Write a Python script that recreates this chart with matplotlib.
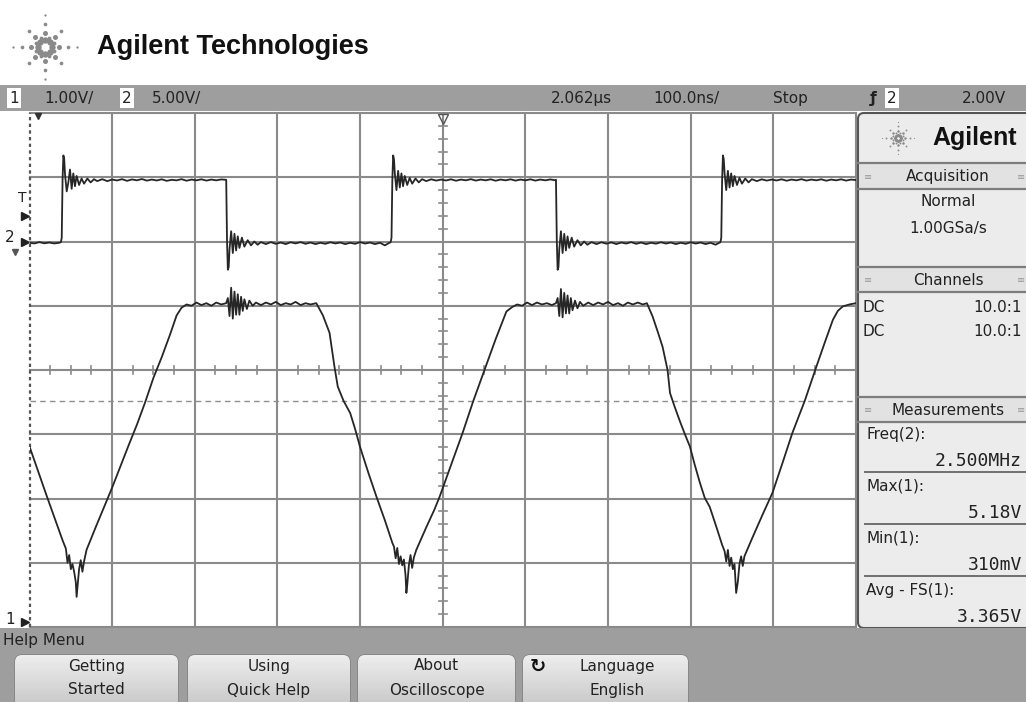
import numpy as np
import matplotlib
matplotlib.use('Agg')
from matplotlib import pyplot as plt
from matplotlib import font_manager
from matplotlib.patches import Rectangle, FancyBboxPatch

# Scope settings as shown on the screen
t_per_div = 100.0      # ns/div
ch1_v_per_div = 1.0
ch2_v_per_div = 5.0
ch1_ground_div = -4.0
ch2_ground_div = 2.0
trig_level_v = 2.0     # on channel 2
cursor_level_v = 3.52  # dashed line, channel 1

# Channel 1 (triangle-ish), time in ns from screen centre, volts
ch1_points = [
    (-500, 2.81), (-490, 2.44), (-480, 2.07), (-470, 1.71), (-460, 1.35), (-456, 1.22),
    (-454, 1.00), (-452, 1.12), (-450, 0.90), (-448, 0.98), (-446, 0.86), (-444, 0.70),
    (-443, 0.47), (-442, 0.62), (-440, 0.90), (-438, 1.04), (-436, 0.86), (-434, 1.02),
    (-431, 1.20), (-420, 1.55), (-410, 1.86), (-400, 2.17), (-390, 2.50), (-380, 2.83),
    (-370, 3.15), (-360, 3.50), (-350, 3.88), (-340, 4.20), (-330, 4.55), (-322, 4.85),
    (-316, 4.97), (-310, 5.02), (-304, 5.00), (-298, 5.05), (-292, 5.01), (-286, 5.04),
    (-280, 5.00), (-274, 5.05), (-268, 5.02), (-262, 5.04), (-260, 5.12), (-258, 4.84),
    (-256, 5.28), (-254, 4.80), (-252, 5.22), (-250, 4.86), (-248, 5.18), (-246, 4.86),
    (-244, 5.14), (-242, 4.92), (-240, 5.10), (-237, 4.95), (-234, 5.08), (-230, 5.00),
    (-226, 5.05), (-220, 5.01), (-214, 5.05), (-208, 5.02), (-202, 5.06), (-196, 5.01),
    (-190, 5.04), (-184, 5.02), (-178, 5.06), (-172, 5.01), (-166, 5.04), (-160, 5.02),
    (-153, 5.04), (-145, 4.85), (-137, 4.58), (-131, 4.05), (-127, 3.74), (-120, 3.52),
    (-112, 3.33), (-106, 3.08), (-100, 2.80), (-90, 2.40), (-80, 2.02), (-70, 1.66),
    (-61, 1.31), (-59, 1.25), (-57, 1.07), (-55, 1.23), (-53, 0.98), (-51, 1.10),
    (-49, 0.96), (-47, 1.05), (-45, 0.80), (-44, 0.53), (-43, 0.65), (-41, 0.96),
    (-39, 1.12), (-37, 0.92), (-35, 1.08), (-32, 1.20), (-20, 1.55), (-10, 1.83),
    (-4, 2.02), (10, 2.52), (24, 3.02), (37, 3.52), (51, 4.02), (64, 4.48), (77, 4.91),
    (84, 4.98), (90, 5.02), (96, 5.00), (102, 5.05), (108, 5.01), (114, 5.05), (120, 5.02),
    (126, 5.04), (132, 5.01), (137, 5.04), (139, 5.12), (141, 4.84), (143, 5.26),
    (145, 4.82), (147, 5.20), (149, 4.88), (151, 5.16), (153, 4.88), (155, 5.12),
    (157, 4.93), (160, 5.08), (163, 4.96), (166, 5.06), (170, 5.00), (176, 5.05),
    (182, 5.01), (188, 5.05), (194, 5.02), (200, 5.06), (206, 5.01), (212, 5.04),
    (218, 5.00), (224, 5.05), (230, 5.02), (236, 5.05), (242, 5.02), (247, 5.04),
    (254, 4.83), (260, 4.60), (266, 4.36), (272, 4.00), (275, 3.64), (280, 3.45),
    (287, 3.20), (293, 3.00), (299, 2.81), (305, 2.52), (311, 2.25), (317, 2.01),
    (323, 1.87), (331, 1.56), (338, 1.28), (341, 1.18), (343, 1.02), (345, 1.20),
    (347, 0.95), (349, 1.08), (351, 0.90), (353, 0.98), (354, 0.75), (355, 0.53),
    (357, 0.70), (359, 0.98), (361, 1.10), (363, 0.95), (365, 1.10), (375, 1.40),
    (387, 1.75), (399, 2.09), (411, 2.55), (423, 3.02), (438, 3.52), (452, 4.05),
    (462, 4.42), (472, 4.78), (478, 4.92), (484, 4.99), (492, 5.02), (500, 5.04),
]

# Channel 2 (square wave with ringing), ns, volts
ch2_points = [
    (-500, -0.10), (-494, -0.15), (-488, -0.05), (-482, -0.14), (-476, -0.08), (-470, -0.15),
    (-464, -0.10), (-462, -0.05), (-461, 0.30), (-460, 4.80), (-459, 6.70), (-458, 6.40),
    (-457, 5.20), (-455, 3.90), (-453, 4.60), (-451, 5.60), (-449, 4.10), (-447, 5.30),
    (-445, 4.30), (-443, 5.10), (-440, 4.40), (-437, 4.90), (-434, 4.50), (-430, 4.90),
    (-426, 4.60), (-422, 4.85), (-418, 4.70), (-412, 4.85), (-406, 4.70), (-400, 4.82),
    (-394, 4.75), (-388, 4.85), (-382, 4.72), (-376, 4.83), (-370, 4.76), (-364, 4.86),
    (-358, 4.74), (-352, 4.82), (-346, 4.75), (-340, 4.84), (-334, 4.72), (-328, 4.80),
    (-322, 4.76), (-316, 4.85), (-310, 4.73), (-304, 4.82), (-298, 4.76), (-292, 4.84),
    (-286, 4.74), (-280, 4.82), (-274, 4.76), (-268, 4.83), (-262, 4.80), (-261, 0.00),
    (-260, -2.20), (-259, -2.00), (-258, -0.60), (-256, 0.80), (-254, -0.90), (-252, 0.60),
    (-250, -0.70), (-248, 0.40), (-246, -0.50), (-243, 0.30), (-240, -0.40), (-236, 0.10),
    (-232, -0.30), (-228, 0.00), (-224, -0.25), (-220, -0.05), (-214, -0.20), (-208, -0.05),
    (-202, -0.18), (-196, -0.08), (-190, -0.20), (-184, -0.06), (-178, -0.15), (-172, -0.05),
    (-166, -0.18), (-160, -0.08), (-154, -0.20), (-148, -0.10), (-142, -0.18), (-136, -0.06),
    (-130, -0.15), (-124, -0.08), (-118, -0.20), (-112, -0.10), (-106, -0.18), (-100, -0.05),
    (-94, -0.16), (-88, -0.08), (-82, -0.20), (-76, -0.10), (-70, -0.30), (-66, -0.15),
    (-63, -0.05), (-62, 0.30), (-61, 4.80), (-60, 6.70), (-59, 6.40), (-58, 5.30),
    (-56, 4.00), (-54, 5.50), (-52, 4.20), (-50, 5.30), (-48, 4.30), (-46, 5.10),
    (-43, 4.40), (-40, 4.95), (-37, 4.50), (-33, 4.90), (-29, 4.60), (-25, 4.85),
    (-20, 4.70), (-14, 4.84), (-8, 4.74), (-2, 4.82), (4, 4.75), (10, 4.84), (16, 4.73),
    (22, 4.82), (28, 4.76), (34, 4.85), (40, 4.74), (46, 4.82), (52, 4.76), (58, 4.84),
    (64, 4.73), (70, 4.82), (76, 4.76), (82, 4.84), (88, 4.74), (94, 4.82), (100, 4.76),
    (106, 4.84), (112, 4.74), (118, 4.82), (124, 4.76), (130, 4.83), (136, 4.77),
    (137, 4.80), (138, 0.00), (139, -2.20), (140, -2.00), (141, -0.60), (143, 0.80),
    (145, -0.90), (147, 0.60), (149, -0.70), (151, 0.40), (153, -0.50), (156, 0.30),
    (159, -0.40), (163, 0.10), (167, -0.30), (171, 0.00), (175, -0.25), (180, -0.05),
    (186, -0.20), (192, -0.06), (198, -0.17), (204, -0.07), (210, -0.20), (216, -0.08),
    (222, -0.16), (228, -0.05), (234, -0.18), (240, -0.08), (246, -0.20), (252, -0.10),
    (258, -0.17), (264, -0.06), (270, -0.16), (276, -0.08), (282, -0.20), (288, -0.10),
    (294, -0.18), (300, -0.06), (306, -0.16), (312, -0.08), (318, -0.20), (324, -0.10),
    (330, -0.25), (334, -0.12), (336, -0.05), (337, 0.30), (338, 4.80), (339, 6.70),
    (340, 6.40), (341, 5.30), (343, 4.00), (345, 5.50), (347, 4.20), (349, 5.30),
    (351, 4.30), (353, 5.10), (356, 4.40), (359, 4.95), (362, 4.50), (366, 4.90),
    (370, 4.60), (374, 4.85), (380, 4.70), (386, 4.84), (392, 4.74), (398, 4.82),
    (404, 4.75), (410, 4.84), (416, 4.73), (422, 4.82), (428, 4.76), (434, 4.85),
    (440, 4.74), (446, 4.82), (452, 4.76), (458, 4.84), (464, 4.73), (470, 4.82),
    (476, 4.76), (482, 4.84), (488, 4.74), (494, 4.82), (500, 4.78),
]

# Screen texts
brand = 'Agilent Technologies'
ch1_scale_txt = '1.00V/'
ch2_scale_txt = '5.00V/'
delay_txt = '2.062µs'
timebase_txt = '100.0ns/'
run_state = 'Stop'
trig_txt = '2.00V'
acq_mode = 'Normal'
sample_rate = '1.00GSa/s'
coupling = ['DC', 'DC']
probe = ['10.0:1', '10.0:1']
meas_names = ['Freq(2):', 'Max(1):', 'Min(1):', 'Avg - FS(1):']
meas_values = ['2.500MHz', '5.18V', '310mV', '3.365V']
softkeys = [('Getting', 'Started'), ('Using', 'Quick Help'),
            ('About', 'Oscilloscope'), ('Language', 'English')]

installed = {f.name for f in font_manager.fontManager.ttflist}
if 'Liberation Sans Narrow' in installed:
    brand_font, brand_size = 'Liberation Sans Narrow', 24
else:
    brand_font, brand_size = 'Liberation Sans', 19.5

W, H = 1026, 702
X0, X1, Y0, Y1 = 29.5, 856.0, 113.0, 627.0   # graticule in pixels

def px_y(div):
    return Y0 + (4 - div) / 8 * (Y1 - Y0)

fig = plt.figure(figsize=(W / 100, H / 100), dpi=100)
bg = fig.add_axes([0, 0, 1, 1])
bg.set_xlim(0, W)
bg.set_ylim(H, 0)
bg.axis('off')

UI = '#222222'
bar_grey = '#9e9e9e'

# top header bar
bg.add_patch(Rectangle((0, 85), W, 26, color=bar_grey, lw=0))
for x0, lab in [(7, '1'), (120, '2'), (885, '2')]:
    bg.add_patch(Rectangle((x0, 88), 14, 20, color='white', lw=0))
    bg.text(x0 + 7, 98.5, lab, ha='center', va='center', fontsize=11, color=UI)
for x, s in [(44, ch1_scale_txt), (152, ch2_scale_txt), (551, delay_txt),
             (653, timebase_txt), (773, run_state), (962, trig_txt)]:
    bg.text(x, 98.5, s, ha='left', va='center', fontsize=11, color=UI)
bg.text(873, 99, 'ƒ', ha='center', va='center', fontsize=11, color=UI, fontweight='bold')

# logo + brand
def starburst(cx, cy, scale, color):
    for a in range(0, 360, 45):
        rays = [6, 13, 21, 29] if a % 90 == 0 else [6, 13, 20]
        for i, r in enumerate(rays):
            bg.plot(cx + scale * r * np.cos(np.radians(a)), cy + scale * r * np.sin(np.radians(a)),
                    'o', ms=(4.2 - i * 0.9) * scale, color=color, mec='none')
    for a in range(22, 360, 45):
        bg.plot(cx + scale * 9 * np.cos(np.radians(a)), cy + scale * 9 * np.sin(np.radians(a)),
                'o', ms=2.5 * scale, color=color, mec='none')

starburst(45, 47, 1.1, '#8a8a8a')
bg.text(97, 47, brand, ha='left', va='center', fontsize=brand_size, fontweight='bold',
        family=brand_font, color='#111111')

# left strip markers
bg.text(22, 198, 'T', ha='center', va='center', fontsize=10, color=UI)
bg.plot(25, px_y(trig_level_v / ch2_v_per_div + ch2_ground_div), '>', ms=6, color=UI)
bg.text(10, 238, '2', ha='center', va='center', fontsize=11, color=UI)
bg.plot(25, px_y(ch2_ground_div), '>', ms=6, color=UI)
bg.plot(15, 252, 'v', ms=5, color='#555555')
bg.text(10, 620, '1', ha='center', va='center', fontsize=11, color=UI)
bg.plot(25, px_y(ch1_ground_div) - 5, '>', ms=6, color=UI)

# right side panel
PX = 858
bg.add_patch(FancyBboxPatch((PX, 113), W - PX + 10, 515,
                            boxstyle='round,pad=0,rounding_size=6',
                            fc='#ececec', ec='#555555', lw=1.5))
starburst(898, 138, 0.55, '#8a8a8a')
bg.text(932, 138, 'Agilent', ha='left', va='center', fontsize=18, fontweight='bold',
        family='Liberation Sans', color='#111111')
for ya, yb, title in [(163, 189, 'Acquisition'), (267, 292, 'Channels'), (397, 422, 'Measurements')]:
    bg.add_patch(Rectangle((PX + 1, ya), W - PX, yb - ya, fc='#e2e2e2', ec='none'))
    bg.plot([PX, W], [ya, ya], color='#7d7d7d', lw=1.6)
    bg.plot([PX, W], [yb, yb], color='#7d7d7d', lw=1.6)
    bg.text(948, (ya + yb) / 2 + 1, title, ha='center', va='center', fontsize=11, color=UI)
    bg.text(868, (ya + yb) / 2 + 1, '≡', ha='center', va='center', fontsize=7, color='#9a9a9a')
    bg.text(1021, (ya + yb) / 2 + 1, '≡', ha='center', va='center', fontsize=7, color='#9a9a9a')
bg.text(948, 202, acq_mode, ha='center', va='center', fontsize=11, color=UI)
bg.text(948, 228, sample_rate, ha='center', va='center', fontsize=11, color=UI)
for i, (c, p) in enumerate(zip(coupling, probe)):
    bg.text(862, 307 + 25 * i, c, ha='left', va='center', fontsize=11, color=UI)
    bg.text(1022, 307 + 25 * i, p, ha='right', va='center', fontsize=11, color=UI)
for i, (name, val) in enumerate(zip(meas_names, meas_values)):
    y = 434 + 52 * i
    bg.text(866, y, name, ha='left', va='center', fontsize=11, color=UI)
    bg.text(1022, y + 27, val, ha='right', va='center', fontsize=13,
            family='DejaVu Sans Mono', color=UI)
    if i < 3:
        bg.plot([865, W], [y + 38, y + 38], color='#6f6f6f', lw=1.4)

# bottom help menu
bg.add_patch(Rectangle((0, 628), W, H - 628, color=bar_grey, lw=0))
bg.text(3, 640, 'Help Menu', ha='left', va='center', fontsize=11, color=UI)
grad = np.linspace(0.93, 0.76, 50)[:, None]
for (xa, xb), (l1, l2) in zip([(15, 178), (188, 350), (358, 515), (523, 688)], softkeys):
    key = FancyBboxPatch((xa, 655), xb - xa, 60, boxstyle='round,pad=0,rounding_size=7',
                         fc='#d4d4d4', ec='#7f7f7f', lw=1.0)
    bg.add_patch(key)
    im = bg.imshow(grad, extent=[xa, xb, 715, 655], cmap='gray', vmin=0, vmax=1,
                   aspect='auto', zorder=1.5)
    im.set_clip_path(key)
    cx = (xa + xb) / 2
    if l1 == 'Language':
        bg.text(538, 666, '↻', ha='center', va='center', fontsize=14, fontweight='bold',
                color='#111111', zorder=3)
        cx += 12
    bg.text(cx, 666, l1, ha='center', va='center', fontsize=11, color=UI, zorder=3)
    bg.text(cx, 690, l2, ha='center', va='center', fontsize=11, color=UI, zorder=3)
bg.set_xlim(0, W)
bg.set_ylim(H, 0)

# graticule and traces
ax = fig.add_axes([X0 / W, 1 - Y1 / H, (X1 - X0) / W, (Y1 - Y0) / H])
ax.set_xlim(-5 * t_per_div, 5 * t_per_div)
ax.set_ylim(-4, 4)
ax.axis('off')
ax.add_patch(Rectangle((-500, -4), 1000, 8, fc='white', ec='none', zorder=0))

grid_c = '#8a8a8a'
for k in range(-4, 6):
    ax.axvline(k * t_per_div, color=grid_c, lw=1.5, clip_on=False, zorder=1)
for k in range(-4, 5):
    ax.axhline(k, color=grid_c, lw=1.5, clip_on=False, zorder=1)
ax.axvline(-5 * t_per_div, color='#555555', lw=1.6, ls=(0, (1.5, 1.5)), clip_on=False, zorder=1)

for t in np.arange(-500, 501, 25):
    if t % 100:
        ax.plot([t, t], [-0.06, 0.06], color=grid_c, lw=1.2, zorder=1)
for d in np.arange(-4, 4.01, 0.2):
    if abs(d - round(d)) > 0.01:
        ax.plot([-5, 5], [d, d], color=grid_c, lw=1.2, zorder=1)

ax.axhline(cursor_level_v / ch1_v_per_div + ch1_ground_div, color='#8f8f8f', lw=1.0,
           ls=(0, (4, 3)), zorder=1)

t1, v1 = np.array(ch1_points).T
t2, v2 = np.array(ch2_points).T
ax.plot(t1, v1 / ch1_v_per_div + ch1_ground_div, color='#262626', lw=1.3, zorder=5)
ax.plot(t2, v2 / ch2_v_per_div + ch2_ground_div, color='#262626', lw=1.3, zorder=5)

# top edge markers
ax.plot(-490, 3.96, 'v', ms=5, color='#333333', clip_on=False, zorder=6)
ax.plot(0, 3.9, 'v', ms=7, mfc='none', mec='#555555', clip_on=False, zorder=6)

fig.savefig('out.png', dpi=100)
